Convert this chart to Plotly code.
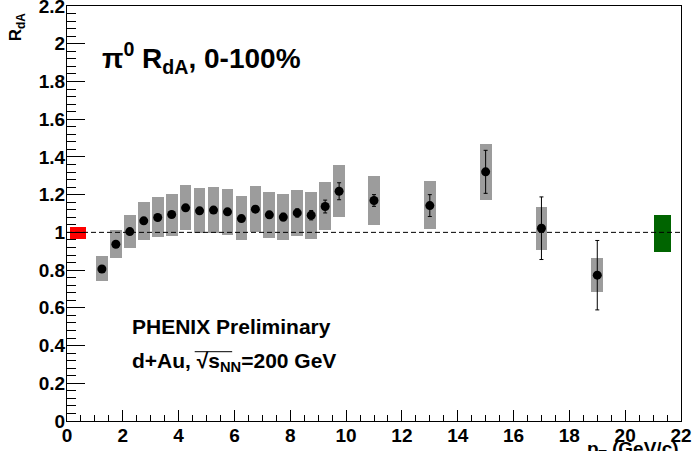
import plotly.graph_objects as go

# ---- data ----
pt = [1.25, 1.75, 2.25, 2.75, 3.25, 3.75, 4.25, 4.75, 5.25, 5.75, 6.25, 6.75,
      7.25, 7.75, 8.25, 8.75, 9.25, 9.75, 11, 13, 15, 17, 19]
rda = [0.806, 0.937, 1.004, 1.061, 1.079, 1.095, 1.130, 1.114, 1.118, 1.109, 1.073, 1.123,
       1.093, 1.081, 1.103, 1.091, 1.137, 1.218, 1.169, 1.142, 1.321, 1.022, 0.773]
sys_hi = [0.875, 1.013, 1.093, 1.163, 1.187, 1.206, 1.252, 1.236, 1.240, 1.231, 1.194, 1.248,
          1.215, 1.203, 1.227, 1.213, 1.266, 1.358, 1.301, 1.271, 1.469, 1.137, 0.863]
sys_lo = [0.744, 0.866, 0.918, 0.960, 0.973, 0.980, 1.013, 0.999, 0.996, 0.985, 0.957, 1.001,
          0.969, 0.960, 0.980, 0.966, 1.010, 1.084, 1.038, 1.017, 1.172, 0.907, 0.686]
stat = [0.012, 0.012, 0.012, 0.012, 0.012, 0.012, 0.012, 0.013, 0.013, 0.014, 0.015, 0.016,
        0.018, 0.020, 0.022, 0.025, 0.034, 0.045, 0.031, 0.058, 0.114, 0.166, 0.184]
box_width = 0.42

# global normalisation uncertainties
red_x, red_w, red_lo, red_hi = 0.40, 0.57, 0.964, 1.031
green_x, green_w, green_lo, green_hi = 21.33, 0.63, 0.895, 1.093

x_range = [0, 22]
y_range = [0, 2.2001]
y_ref = 1.0

FONT = "Liberation Sans"

fig = go.Figure()

# systematic boxes
fig.add_trace(go.Bar(
    x=pt, y=[h - l for h, l in zip(sys_hi, sys_lo)], base=sys_lo, width=box_width,
    marker=dict(color="#9c9c9c", line=dict(width=0)), showlegend=False))
fig.add_trace(go.Bar(
    x=[red_x], y=[red_hi - red_lo], base=[red_lo], width=red_w,
    marker=dict(color="#ff0000", line=dict(width=0)), showlegend=False))
fig.add_trace(go.Bar(
    x=[green_x], y=[green_hi - green_lo], base=[green_lo], width=green_w,
    marker=dict(color="#006400", line=dict(width=0)), showlegend=False))

# reference line
fig.add_trace(go.Scatter(
    x=x_range, y=[y_ref, y_ref], mode="lines",
    line=dict(color="black", width=1, dash="5px,3px"), showlegend=False))

# points with stat errors
fig.add_trace(go.Scatter(
    x=pt, y=rda, mode="markers",
    marker=dict(color="black", size=9),
    error_y=dict(type="data", array=stat, color="black", thickness=1, width=2),
    showlegend=False))

fig.update_layout(
    width=693, height=451,
    margin=dict(l=67, r=12, t=6, b=30),
    paper_bgcolor="white", plot_bgcolor="white",
    barmode="overlay", bargap=0,
    font=dict(family=FONT, size=19, color="black"),
)

fig.update_xaxes(
    range=x_range, dtick=2, tick0=0, ticks="inside", ticklen=11, tickwidth=1,
    tickcolor="black", showgrid=False, zeroline=False, automargin=False,
    showline=True, linecolor="black", linewidth=1, mirror=True,
    ticklabelstandoff=-3, ticklabeloverflow="allow",
    tickfont=dict(family=FONT, size=19, color="black", weight="bold"),
    minor=dict(dtick=0.5, ticks="inside", ticklen=6, tickcolor="black", showgrid=False),
)
fig.update_yaxes(
    range=y_range, dtick=0.2, tick0=0, ticks="inside", ticklen=18, tickwidth=1,
    tickcolor="black", showgrid=False, zeroline=False, automargin=False,
    showline=True, linecolor="black", linewidth=1, mirror=True,
    tickformat="~g", ticklabelstandoff=-3, ticklabeloverflow="allow",
    tickfont=dict(family=FONT, size=19, color="black", weight="bold"),
    minor=dict(dtick=0.04, ticks="inside", ticklen=9, tickcolor="black", showgrid=False),
)

fig.add_annotation(
    text="<b>π<sup>0</sup> R<sub>dA</sub>, 0-100%</b>",
    xref="paper", yref="paper", x=0.054, y=0.875, xanchor="left", yanchor="middle",
    showarrow=False, font=dict(family=FONT, size=28, color="black"))
fig.add_annotation(
    text="<b>PHENIX Preliminary</b>",
    xref="paper", yref="paper", x=0.102, y=0.227, xanchor="left", yanchor="middle",
    showarrow=False, font=dict(family=FONT, size=21, color="black"))
fig.add_annotation(
    text="<b>d+Au, √s<sub>NN</sub>=200 GeV</b>",
    xref="paper", yref="paper", x=0.102, y=0.142, xanchor="left", yanchor="middle",
    showarrow=False, font=dict(family=FONT, size=21, color="black"))
# overline of the square root
fig.add_shape(type="line", xref="paper", yref="paper",
              x0=0.208, x1=0.269, y0=0.167, y1=0.167,
              line=dict(color="black", width=1))
fig.add_annotation(
    text="<b>R<sub>dA</sub></b>", textangle=-90,
    xref="paper", yref="paper", x=-0.082, y=0.99, xanchor="center", yanchor="top",
    showarrow=False, font=dict(family=FONT, size=17, color="black"))
fig.add_annotation(
    text="<b>p<sub>T</sub> (GeV/c)</b>",
    xref="paper", yref="paper", x=1.0, y=-0.035, xanchor="right", yanchor="top",
    showarrow=False, font=dict(family=FONT, size=19, color="black"))

fig.write_html("out.html")
